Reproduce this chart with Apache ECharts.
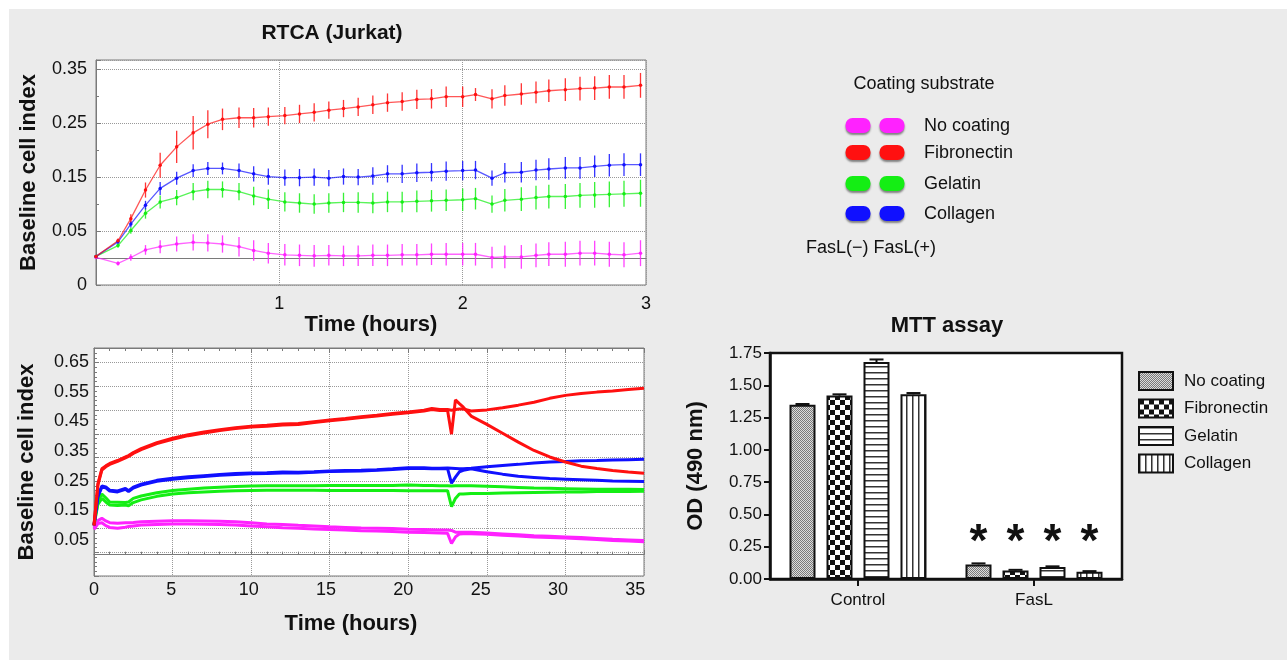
<!DOCTYPE html>
<html><head><meta charset="utf-8">
<script src="https://cdn.jsdelivr.net/npm/echarts@6/dist/echarts.min.js"></script>
<style>html,body{margin:0;padding:0;background:#fff;}#c{width:1287px;height:662px;}</style>
</head><body><div id="c"></div>
<script>
// ---------- RTCA (Jurkat), first 3 hours ----------
const t1 = [0, 0.12, 0.19, 0.27, 0.35, 0.44, 0.53, 0.61, 0.69, 0.78, 0.86, 0.94, 1.03, 1.11, 1.19, 1.27, 1.35, 1.43, 1.51, 1.59, 1.67, 1.75, 1.83, 1.91, 2.00, 2.07, 2.16, 2.23, 2.32, 2.40, 2.47, 2.56, 2.64, 2.72, 2.80, 2.88, 2.97];
const rtcaFib = [0.003,0.032,0.073,0.126,0.172,0.206,0.232,0.248,0.257,0.260,0.260,0.262,0.264,0.267,0.270,0.274,0.277,0.280,0.284,0.288,0.290,0.294,0.295,0.299,0.299,0.303,0.295,0.301,0.304,0.307,0.310,0.312,0.314,0.315,0.317,0.317,0.320];
const rtcaFibErr = [0.002,0.004,0.008,0.014,0.023,0.03,0.031,0.026,0.02,0.019,0.018,0.017,0.016,0.017,0.017,0.016,0.016,0.017,0.017,0.017,0.017,0.018,0.018,0.019,0.019,0.012,0.018,0.019,0.02,0.02,0.021,0.021,0.022,0.022,0.022,0.022,0.023];
const rtcaCol = [0.003,0.030,0.063,0.098,0.129,0.148,0.162,0.166,0.166,0.162,0.156,0.151,0.149,0.149,0.150,0.148,0.151,0.150,0.152,0.156,0.156,0.158,0.159,0.161,0.162,0.163,0.148,0.158,0.159,0.163,0.165,0.167,0.167,0.170,0.172,0.173,0.173];
const rtcaColErr = [0.002,0.004,0.006,0.008,0.012,0.012,0.012,0.012,0.011,0.013,0.014,0.015,0.015,0.016,0.016,0.015,0.015,0.015,0.016,0.016,0.017,0.017,0.017,0.018,0.018,0.017,0.014,0.018,0.019,0.019,0.02,0.02,0.02,0.02,0.021,0.021,0.021];
const rtcaGel = [0.003,0.023,0.051,0.083,0.104,0.112,0.123,0.127,0.127,0.123,0.115,0.109,0.104,0.102,0.100,0.102,0.103,0.103,0.102,0.104,0.104,0.105,0.106,0.107,0.108,0.110,0.100,0.107,0.109,0.112,0.114,0.114,0.116,0.117,0.118,0.119,0.120];
const rtcaGelErr = [0.002,0.004,0.006,0.01,0.012,0.014,0.016,0.016,0.015,0.016,0.017,0.018,0.018,0.018,0.018,0.018,0.018,0.019,0.019,0.019,0.019,0.02,0.02,0.02,0.021,0.02,0.016,0.021,0.022,0.022,0.022,0.023,0.023,0.024,0.024,0.024,0.025];
const rtcaNo = [0.001,-0.010,0.001,0.015,0.021,0.026,0.029,0.028,0.026,0.021,0.014,0.009,0.006,0.005,0.004,0.005,0.004,0.004,0.005,0.005,0.006,0.006,0.007,0.007,0.007,0.007,0.001,0.002,0.002,0.005,0.007,0.007,0.009,0.009,0.007,0.006,0.009];
const rtcaNoErr = [0.002,0.004,0.006,0.009,0.012,0.014,0.015,0.016,0.016,0.018,0.019,0.019,0.02,0.02,0.02,0.019,0.019,0.019,0.02,0.02,0.02,0.02,0.02,0.021,0.021,0.021,0.02,0.021,0.022,0.022,0.022,0.023,0.023,0.023,0.023,0.023,0.024];
const t1Ticks = [1, 2, 3];

// ---------- RTCA, 35 hours, FasL(-) / FasL(+) ----------
const t2 = [0,0.25,0.5,0.75,1,1.5,2,2.2,2.5,3,4,5,6,7,8,9,10,11,12,13,14,15,16,17,18,19,20,21,21.5,22,22.5,22.75,23,23.25,23.5,24,25,26,27,28,29,30,31,32,33,34,35];
const fibMinus = [0.100,0.240,0.290,0.300,0.308,0.318,0.330,0.335,0.345,0.358,0.378,0.393,0.405,0.414,0.422,0.429,0.434,0.437,0.441,0.443,0.449,0.455,0.460,0.466,0.471,0.477,0.482,0.488,0.494,0.490,0.490,0.488,0.490,0.492,0.492,0.485,0.489,0.496,0.505,0.515,0.528,0.538,0.544,0.549,0.553,0.558,0.562];
const fibPlus = [0.098,0.236,0.286,0.297,0.305,0.315,0.327,0.332,0.342,0.355,0.375,0.390,0.402,0.411,0.419,0.426,0.431,0.434,0.438,0.440,0.446,0.452,0.457,0.463,0.468,0.474,0.479,0.485,0.490,0.487,0.487,0.407,0.523,0.510,0.498,0.468,0.440,0.410,0.380,0.352,0.330,0.313,0.299,0.291,0.284,0.279,0.275];
const colMinus = [0.100,0.200,0.232,0.229,0.218,0.215,0.224,0.216,0.228,0.238,0.251,0.258,0.263,0.267,0.271,0.274,0.276,0.277,0.279,0.278,0.280,0.283,0.284,0.285,0.287,0.290,0.294,0.294,0.292,0.292,0.293,0.292,0.291,0.290,0.290,0.292,0.297,0.301,0.305,0.310,0.313,0.315,0.317,0.318,0.320,0.321,0.322];
const colPlus = [0.098,0.196,0.228,0.226,0.215,0.212,0.221,0.213,0.225,0.235,0.248,0.255,0.260,0.264,0.268,0.271,0.273,0.274,0.276,0.276,0.278,0.281,0.282,0.283,0.285,0.288,0.291,0.291,0.290,0.290,0.291,0.241,0.262,0.280,0.285,0.290,0.280,0.272,0.265,0.261,0.257,0.255,0.253,0.251,0.249,0.248,0.247];
const gelMinus = [0.100,0.180,0.205,0.192,0.178,0.177,0.176,0.178,0.190,0.198,0.209,0.217,0.221,0.225,0.228,0.230,0.232,0.233,0.233,0.233,0.233,0.234,0.234,0.234,0.234,0.234,0.235,0.234,0.234,0.233,0.233,0.232,0.233,0.233,0.233,0.233,0.231,0.229,0.227,0.225,0.224,0.223,0.222,0.221,0.221,0.221,0.220];
const gelPlus = [0.100,0.170,0.190,0.178,0.168,0.166,0.168,0.165,0.176,0.185,0.197,0.205,0.209,0.212,0.214,0.216,0.217,0.218,0.218,0.218,0.218,0.217,0.217,0.217,0.217,0.217,0.216,0.216,0.216,0.216,0.216,0.162,0.190,0.205,0.205,0.207,0.207,0.208,0.209,0.210,0.211,0.212,0.212,0.213,0.213,0.213,0.214];
const noMinus = [0.090,0.115,0.123,0.114,0.108,0.106,0.108,0.108,0.109,0.111,0.113,0.115,0.115,0.114,0.113,0.111,0.108,0.104,0.102,0.099,0.097,0.094,0.092,0.090,0.089,0.088,0.086,0.085,0.084,0.083,0.083,0.082,0.076,0.076,0.076,0.076,0.073,0.070,0.067,0.064,0.062,0.060,0.058,0.055,0.052,0.050,0.048];
const noPlus = [0.085,0.105,0.108,0.098,0.092,0.089,0.093,0.095,0.097,0.100,0.102,0.104,0.104,0.103,0.102,0.100,0.097,0.094,0.091,0.089,0.087,0.085,0.083,0.081,0.080,0.078,0.076,0.075,0.074,0.073,0.072,0.038,0.060,0.070,0.071,0.071,0.069,0.066,0.063,0.060,0.058,0.056,0.054,0.051,0.048,0.046,0.044];
const yTicks2 = [0.05, 0.15, 0.25, 0.35, 0.45, 0.55, 0.65];

// ---------- MTT assay ----------
const mttCats = ['Control', 'FasL'];
const mttNames = ['No coating', 'Fibronectin', 'Gelatin', 'Collagen'];
const mttNo = [1.35, 0.113];
const mttFib = [1.42, 0.066];
const mttGel = [1.68, 0.093];
const mttCol = [1.43, 0.056];
const mttNoErr = [0.005, 0.008];
const mttFibErr = [0.01, 0.005];
const mttGelErr = [0.02, 0.005];
const mttColErr = [0.01, 0.005];
const mttSig = ['', '*'];

// ---------- legend (coating substrate) ----------
const coatNames = ['No coating', 'Fibronectin', 'Gelatin', 'Collagen'];

// ---------- styles ----------
const FONT = '"Liberation Sans", Arial, Helvetica, sans-serif';
const C = { no: '#ff22ff', fib: '#ff1010', gel: '#14ee14', col: '#1010ff' };
const coatColors = [C.no, C.fib, C.gel, C.col];
const TXT = '#111';
const AX = '#7a7a7a';

function pat(w, h, draw) {
  const c = document.createElement('canvas'); c.width = w; c.height = h;
  const g = c.getContext('2d'); draw(g); return { image: c, repeat: 'repeat' };
}
const patNo = pat(2, 2, g => { g.fillStyle = '#dcdcdc'; g.fillRect(0,0,2,2); g.fillStyle = '#7a7a7a'; g.fillRect(0,0,1,1); g.fillRect(1,1,1,1); });
const patFib = pat(10, 10, g => { g.fillStyle = '#fff'; g.fillRect(0,0,10,10); g.fillStyle = '#111'; g.fillRect(0,0,5,5); g.fillRect(5,5,5,5); });
const patGel = pat(6, 6, g => { g.fillStyle = '#fff'; g.fillRect(0,0,6,6); g.fillStyle = '#333'; g.fillRect(0,0,6,1.5); });
const patCol = pat(6, 6, g => { g.fillStyle = '#fff'; g.fillRect(0,0,6,6); g.fillStyle = '#333'; g.fillRect(0,0,1.5,6); });
const mttPatterns = [patNo, patFib, patGel, patCol];
const mttVals = [mttNo, mttFib, mttGel, mttCol];
const mttErrs = [mttNoErr, mttFibErr, mttGelErr, mttColErr];
const BAR_W = 26, BAR_GAP = 11;

const series = [];

// top chart: lines + error bars
const topSets = [
  ['No coating', rtcaNo, rtcaNoErr, C.no],
  ['Gelatin', rtcaGel, rtcaGelErr, C.gel],
  ['Collagen', rtcaCol, rtcaColErr, C.col],
  ['Fibronectin', rtcaFib, rtcaFibErr, C.fib]
];
topSets.forEach(([nm, vals, errs, col]) => {
  series.push({
    type: 'custom', name: 'RTCA 3h err ' + nm, xAxisIndex: 0, yAxisIndex: 0, z: 3,
    data: t1.map((t, i) => [t, vals[i], errs[i]]),
    renderItem: (params, api) => {
      const x = api.value(0), v = api.value(1), e = api.value(2);
      const a = api.coord([x, v - e]), b = api.coord([x, v + e]);
      return { type: 'line', shape: { x1: a[0], y1: a[1], x2: b[0], y2: b[1] },
        style: { stroke: col, lineWidth: 1.3, opacity: 0.85 } };
    }
  });
  series.push({
    type: 'line', name: 'RTCA 3h ' + nm, xAxisIndex: 0, yAxisIndex: 0, z: 4,
    data: t1.map((t, i) => [t, vals[i]]),
    symbol: 'circle', symbolSize: 3.5, showSymbol: true,
    lineStyle: { color: col, width: 1.3, opacity: 0.7 },
    itemStyle: { color: col }
  });
});

// bottom chart: 8 traces
const botSets = [
  ['No coating FasL(-)', noMinus, C.no], ['No coating FasL(+)', noPlus, C.no],
  ['Gelatin FasL(-)', gelMinus, C.gel], ['Gelatin FasL(+)', gelPlus, C.gel],
  ['Collagen FasL(-)', colMinus, C.col], ['Collagen FasL(+)', colPlus, C.col],
  ['Fibronectin FasL(-)', fibMinus, C.fib], ['Fibronectin FasL(+)', fibPlus, C.fib]
];
botSets.forEach(([nm, vals, col]) => {
  series.push({
    type: 'line', name: 'RTCA 35h ' + nm, xAxisIndex: 1, yAxisIndex: 1, z: 4,
    data: t2.map((t, i) => [t, vals[i]]),
    showSymbol: false, symbol: 'none',
    lineStyle: { color: col, width: 3 }, itemStyle: { color: col }
  });
});

// MTT bars
mttNames.forEach((nm, k) => {
  series.push({
    type: 'bar', name: nm, xAxisIndex: 4, yAxisIndex: 3, z: 3,
    data: mttVals[k], barWidth: BAR_W, barGap: (BAR_GAP / BAR_W * 100).toFixed(1) + '%',
    itemStyle: { color: mttPatterns[k], borderColor: '#111', borderWidth: 2 }
  });
});
mttNames.forEach((nm, k) => {
  const vals = mttVals[k], errs = mttErrs[k];
  const off = (k - 1.5) * (BAR_W + BAR_GAP);
  series.push({
    type: 'custom', name: 'MTT err ' + nm, xAxisIndex: 4, yAxisIndex: 3, z: 5,
    data: mttCats.map((c, i) => [i, vals[i], errs[i]]),
    renderItem: (params, api) => {
      const i = api.value(0), v = api.value(1), e = api.value(2);
      const a = api.coord([i, v]), b = api.coord([i, v + e]);
      const x = a[0] + off;
      const ch = [
        { type: 'line', shape: { x1: x, y1: a[1], x2: x, y2: b[1] }, style: { stroke: '#111', lineWidth: 2 } },
        { type: 'line', shape: { x1: x - 7, y1: b[1], x2: x + 7, y2: b[1] }, style: { stroke: '#111', lineWidth: 2 } }
      ];
      if (mttSig[params.dataIndex]) {
        const base = api.coord([i, 0]);
        ch.push({ type: 'text', x: x, y: base[1] - 36,
          style: { text: mttSig[params.dataIndex], font: 'bold 46px ' + FONT, fill: '#111', align: 'center', verticalAlign: 'middle' } });
      }
      return { type: 'group', children: ch };
    }
  });
});

// coating-substrate legend graphics
const rowsY = [126, 153, 184, 214];
const graphics = [
  { type: 'rect', z: -100, silent: true, shape: { x: 9, y: 9, width: 1278, height: 651 }, style: { fill: '#ebebeb' } },
  { type: 'text', x: 924, y: 84, style: { text: 'Coating substrate', font: '18px ' + FONT, fill: TXT, align: 'center', verticalAlign: 'middle' } },
  { type: 'text', x: 806, y: 248, style: { text: 'FasL(\u2212) FasL(+)', font: '18px ' + FONT, fill: TXT, align: 'left', verticalAlign: 'middle' } }
];
coatNames.forEach((nm, i) => {
  [858, 892].forEach(cx => {
    graphics.push({ type: 'rect', x: cx - 12.5, y: rowsY[i] - 8, shape: { x: 0, y: 0, width: 25, height: 15, r: 7 },
      style: { fill: coatColors[i], shadowBlur: 2, shadowOffsetY: 2, shadowColor: 'rgba(0,0,0,0.45)' } });
  });
  graphics.push({ type: 'text', x: 924, y: rowsY[i], style: { text: nm, font: '18px ' + FONT, fill: TXT, align: 'left', verticalAlign: 'middle' } });
});

const lbl = (sz, extra) => Object.assign({ color: TXT, fontSize: sz, fontFamily: FONT }, extra || {});
const nameStyle = (extra) => Object.assign({ color: TXT, fontSize: 22, fontWeight: 'bold', fontFamily: FONT }, extra || {});

const option = {
  animation: false,
  backgroundColor: '#fff',
  textStyle: { fontFamily: FONT },
  title: [
    { text: 'RTCA (Jurkat)', left: 332, top: 23, textAlign: 'center', padding: 0,
      textStyle: { fontSize: 21, fontWeight: 'bold', color: TXT, fontFamily: FONT } },
    { text: 'MTT assay', left: 947, top: 315, textAlign: 'center', padding: 0,
      textStyle: { fontSize: 22, fontWeight: 'bold', color: TXT, fontFamily: FONT } }
  ],
  legend: {
    data: mttNames, orient: 'vertical', left: 1138, top: 371, padding: 0,
    itemWidth: 34, itemHeight: 18, itemGap: 7.5, icon: 'rect',
    textStyle: lbl(17, { padding: [0, 0, 0, 6] }),
    selectedMode: false
  },
  graphic: graphics,
  grid: [
    { left: 96, top: 60, width: 550, height: 225, show: true, backgroundColor: '#fff', borderColor: AX, borderWidth: 1 },
    { left: 94, top: 348, width: 550, height: 228, show: true, backgroundColor: '#fff', borderColor: AX, borderWidth: 1 },
    { left: 770, top: 353, width: 352, height: 226, show: true, backgroundColor: '#fff', borderColor: '#111', borderWidth: 2.5 }
  ],
  xAxis: [
    { gridIndex: 0, type: 'value', min: 0, max: 3, interval: 1,
      axisLine: { show: true, lineStyle: { color: AX } }, axisTick: { show: false },
      axisLabel: lbl(18, { margin: 10, formatter: v => (t1Ticks.indexOf(v) >= 0 ? String(v) : '') }),
      splitLine: { show: true, lineStyle: { type: 'dotted', color: '#999' } },
      name: 'Time (hours)', nameLocation: 'middle', nameGap: 29, nameTextStyle: nameStyle() },
    { gridIndex: 1, type: 'value', min: 0, max: 35, interval: 5,
      axisLine: { show: true, lineStyle: { color: AX } },
      axisTick: { show: true, inside: true, length: 5, lineStyle: { color: AX } },
      minorTick: { show: true, splitNumber: 5, length: 3, lineStyle: { color: AX } },
      axisLabel: { show: false },
      splitLine: { show: true, lineStyle: { type: 'dotted', color: '#999' } } },
    { gridIndex: 1, type: 'value', position: 'bottom', min: 0, max: 35.56, interval: 5,
      axisLine: { show: false }, axisTick: { show: false }, splitLine: { show: false },
      axisLabel: lbl(18, { margin: 5, showMaxLabel: false }),
      name: 'Time (hours)', nameLocation: 'middle', nameGap: 37, nameTextStyle: nameStyle({ padding: [0, 36, 0, 0] }) },
    { gridIndex: 1, type: 'value', position: 'top', min: 0, max: 35, interval: 5,
      axisLine: { show: true, lineStyle: { color: AX } },
      axisTick: { show: true, inside: true, length: 5, lineStyle: { color: AX } },
      minorTick: { show: true, splitNumber: 5, length: 3, lineStyle: { color: AX } },
      axisLabel: { show: false }, splitLine: { show: false } },
    { gridIndex: 2, type: 'category', data: mttCats,
      axisLine: { show: true, lineStyle: { color: '#111', width: 2.5 } },
      axisTick: { show: true, alignWithLabel: true, length: 7, lineStyle: { color: '#111', width: 2 } },
      axisLabel: lbl(17, { margin: 13 }) }
  ],
  yAxis: [
    { gridIndex: 0, type: 'value', min: -0.05, max: 0.367, interval: 0.1,
      axisLine: { show: true, lineStyle: { color: AX } },
      axisTick: { show: true, inside: true, length: 5, lineStyle: { color: AX } },
      minorTick: { show: true, splitNumber: 2, length: 3, lineStyle: { color: AX } },
      axisLabel: lbl(18, { margin: 9, showMaxLabel: false, formatter: v => (v < 0 ? '0' : v.toFixed(2)) }),
      splitLine: { show: true, lineStyle: { type: 'dotted', color: '#999' } },
      name: 'Baseline cell index', nameLocation: 'middle', nameGap: 56, nameTextStyle: nameStyle() },
    { gridIndex: 1, type: 'value', min: -0.072, max: 0.698,
      axisLine: { show: false }, axisTick: { show: false }, splitLine: { show: false },
      axisLabel: lbl(18, { margin: 5, customValues: yTicks2, formatter: v => v.toFixed(2) }),
      name: 'Baseline cell index', nameLocation: 'middle', nameGap: 56, nameTextStyle: nameStyle() },
    { gridIndex: 1, type: 'value', position: 'left', min: 0, max: 9.62, interval: 1,
      axisLine: { show: true, lineStyle: { color: AX } },
      axisTick: { show: true, inside: true, length: 5, lineStyle: { color: AX } },
      minorTick: { show: true, splitNumber: 5, length: 3, lineStyle: { color: AX } },
      axisLabel: { show: false },
      splitLine: { show: true, lineStyle: { type: 'dotted', color: '#999' } } },
    { gridIndex: 2, type: 'value', min: 0, max: 1.75, interval: 0.25,
      axisLine: { show: true, lineStyle: { color: '#111', width: 2.5 } },
      axisTick: { show: true, length: 6, lineStyle: { color: '#111', width: 2 } },
      axisLabel: lbl(17, { margin: 8, formatter: v => v.toFixed(2) }),
      splitLine: { show: false },
      name: 'OD (490 nm)', nameLocation: 'middle', nameGap: 63, nameTextStyle: nameStyle() }
  ],
  series: series
};

const chart = echarts.init(document.getElementById('c'), null, { renderer: 'canvas' });
chart.setOption(option);
</script></body></html>
